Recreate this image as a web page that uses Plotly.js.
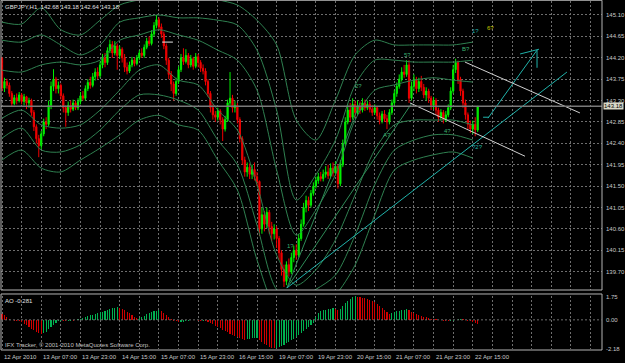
<!DOCTYPE html>
<html><head><meta charset="utf-8">
<script src="https://cdn.plot.ly/plotly-3.0.1.min.js"></script>
<style>html,body{margin:0;padding:0;background:#000;}#c{width:625px;height:363px;}</style>
</head><body><div id="c"></div>
<script>
const symbol = "GBPJPY,H1";
const headerValues = ["142.68","143.18","142.64","143.18"];
const timeLabels = ["12 Apr 2010","13 Apr 07:00","13 Apr 23:00","14 Apr 15:00","15 Apr 07:00","15 Apr 23:00","16 Apr 15:00","19 Apr 07:00","19 Apr 23:00","20 Apr 15:00","21 Apr 07:00","21 Apr 23:00","22 Apr 15:00"];
const timeLabelBars = [0,16,32,48,64,80,96,112,128,144,160,176,192];
const gridBars = [0,8,16,24,32,40,48,56,64,72,80,88,96,104,112,120,128,136,144,152,160,168,176,184,192,200,208,216,224,232,240];
const priceTicks = [145.10,144.65,144.20,143.75,143.30,142.85,142.40,141.95,141.50,141.05,140.60,140.15,139.70,139.25];
const priceTickText = ["145.10","144.65","144.20","143.75","143.30","142.85","142.40","141.95","141.50","141.05","140.60","140.15","139.70","139.25"];
const aoTicks = [1.75,0.00,-2.18];
const aoTickText = ["1.75","0.00","-2.18"];
const bidPrice = 143.18;

const open = [144.19,143.56,143.70,143.62,143.45,143.24,143.36,143.30,143.42,143.28,
143.38,143.25,143.30,143.05,142.75,142.50,142.35,142.60,142.85,142.80,
143.20,143.60,143.75,143.55,143.62,143.40,143.15,143.05,143.20,143.12,
143.25,143.15,143.28,143.40,143.35,143.55,143.68,143.62,143.80,143.90,
143.82,144.05,144.20,144.10,144.35,144.48,144.30,144.45,144.25,144.38,
144.20,144.00,143.92,144.05,144.15,144.08,144.20,144.30,144.25,144.42,
144.55,144.50,144.70,144.88,145.00,144.85,144.70,144.45,144.15,143.85,
143.65,143.45,143.70,143.95,144.20,144.12,144.25,144.05,144.18,144.02,
144.22,144.10,143.98,143.92,143.70,143.45,143.15,143.00,142.95,143.08,
142.90,142.70,142.90,143.25,143.35,143.15,143.20,142.90,142.50,142.05,
141.80,141.90,141.75,141.85,141.70,141.60,140.60,140.90,140.70,140.95,
140.65,140.50,140.60,140.40,140.10,139.75,139.50,139.85,139.70,140.00,
140.15,140.05,140.40,140.70,141.05,141.20,141.10,141.35,141.50,141.62,
141.70,141.66,141.75,141.80,141.72,141.88,141.78,141.92,141.55,141.95,
142.40,142.85,143.10,142.95,143.22,143.05,143.18,143.10,143.25,143.15,
143.22,143.12,143.05,143.15,142.98,142.88,143.02,142.92,142.85,143.05,
143.25,143.45,143.60,143.75,143.90,143.85,144.05,143.35,143.60,143.75,
143.55,143.70,143.58,143.42,143.50,143.35,143.20,143.30,143.10,142.95,
143.05,142.90,143.00,143.15,143.50,143.95,144.10,143.75,143.50,143.25,
143.00,142.80,142.70,142.80,142.68];
const high = [144.22,143.78,143.76,143.68,143.50,143.42,143.45,143.48,143.46,143.44,
143.40,143.36,143.34,143.10,142.80,142.58,142.66,142.92,142.95,143.30,
143.70,143.96,143.80,143.70,143.66,143.45,143.20,143.28,143.30,143.32,
143.30,143.35,143.48,143.50,143.62,143.75,143.80,143.88,143.98,144.00,
144.12,144.28,144.30,144.42,144.58,144.55,144.55,144.50,144.45,144.42,
144.28,144.10,144.12,144.22,144.20,144.26,144.36,144.40,144.48,144.62,
144.65,144.78,144.95,145.10,145.05,144.92,144.75,144.50,144.20,143.92,
143.70,143.78,144.02,144.28,144.40,144.38,144.30,144.26,144.22,144.30,
144.28,144.15,144.06,143.98,143.75,143.50,143.22,143.08,143.15,143.12,
142.95,142.98,143.32,143.90,143.42,143.30,143.25,142.95,142.55,142.12,
142.00,141.98,141.95,142.00,141.80,141.62,141.05,140.98,141.05,141.00,
140.75,140.70,140.66,140.45,140.15,139.85,139.92,139.98,140.10,140.25,
140.28,140.50,140.80,141.15,141.30,141.28,141.42,141.58,141.70,141.78,
141.80,141.85,141.92,141.95,141.98,142.00,142.02,141.96,142.05,142.48,
142.95,143.22,143.25,143.35,143.30,143.30,143.28,143.35,143.32,143.30,
143.28,143.20,143.22,143.18,143.05,143.08,143.10,143.00,143.12,143.32,
143.52,143.68,143.85,144.00,144.05,144.15,144.15,143.70,143.85,143.80,
143.78,143.82,143.65,143.58,143.55,143.40,143.38,143.35,143.15,143.12,
143.10,143.08,143.22,143.58,144.05,144.18,144.14,143.80,143.55,143.32,
143.05,142.88,142.88,142.95,143.18];
const low = [143.50,143.48,143.55,143.38,143.18,143.20,143.22,143.26,143.22,143.20,
143.12,143.15,142.98,142.66,142.40,142.11,142.28,142.55,142.70,142.76,
143.12,143.50,143.45,143.45,143.32,143.05,142.75,142.98,143.05,143.08,
143.10,143.10,143.22,143.30,143.30,143.50,143.55,143.58,143.72,143.75,
143.78,143.98,144.00,144.05,144.30,144.20,144.25,143.95,144.18,144.10,
143.90,143.85,143.88,144.00,144.02,144.04,144.15,144.20,144.20,144.38,
144.45,144.46,144.65,144.82,144.78,144.62,144.38,144.05,143.75,143.50,
143.30,143.40,143.65,143.90,144.05,144.08,143.98,144.00,143.95,143.98,
144.00,143.90,143.85,143.62,143.38,143.05,142.90,142.85,142.88,142.80,
142.45,142.65,142.85,143.18,143.05,143.05,142.82,142.42,141.95,141.70,
141.70,141.65,141.65,141.62,141.50,140.45,140.50,140.55,140.62,140.50,
140.35,140.38,140.20,139.95,139.62,139.38,139.42,139.60,139.65,139.90,
139.95,140.00,140.35,140.65,140.95,140.98,141.05,141.30,141.45,141.55,
141.60,141.60,141.68,141.65,141.66,141.70,141.72,141.45,141.50,141.90,
142.35,142.80,142.85,142.90,142.95,143.00,143.02,143.05,143.08,143.10,
143.05,142.98,143.00,142.90,142.80,142.82,142.85,142.70,142.80,143.00,
143.20,143.38,143.55,143.70,143.78,143.80,143.25,143.30,143.50,143.45,
143.48,143.50,143.35,143.30,143.25,143.10,143.12,143.00,142.85,142.88,
142.82,142.85,142.95,143.10,143.45,143.88,143.65,143.40,143.15,142.90,
142.70,142.62,142.60,142.55,142.64];
const close = [143.56,143.70,143.62,143.45,143.24,143.36,143.30,143.42,143.28,143.38,
143.25,143.30,143.05,142.75,142.50,142.35,142.60,142.85,142.80,143.20,
143.60,143.75,143.55,143.62,143.40,143.15,143.05,143.20,143.12,143.25,
143.15,143.28,143.40,143.35,143.55,143.68,143.62,143.80,143.90,143.82,
144.05,144.20,144.10,144.35,144.48,144.30,144.45,144.25,144.38,144.20,
144.00,143.92,144.05,144.15,144.08,144.20,144.30,144.25,144.42,144.55,
144.50,144.70,144.88,145.00,144.85,144.70,144.45,144.15,143.85,143.65,
143.45,143.70,143.95,144.20,144.12,144.25,144.05,144.18,144.02,144.22,
144.10,143.98,143.92,143.70,143.45,143.15,143.00,142.95,143.08,142.90,
142.70,142.90,143.25,143.35,143.15,143.20,142.90,142.50,142.05,141.80,
141.90,141.75,141.85,141.70,141.60,140.60,140.90,140.70,140.95,140.65,
140.50,140.60,140.40,140.10,139.75,139.50,139.85,139.70,140.00,140.15,
140.05,140.40,140.70,141.05,141.20,141.10,141.35,141.50,141.62,141.70,
141.66,141.75,141.80,141.72,141.88,141.78,141.92,141.55,141.95,142.40,
142.85,143.10,142.95,143.22,143.05,143.18,143.10,143.25,143.15,143.22,
143.12,143.05,143.15,142.98,142.88,143.02,142.92,142.85,143.05,143.25,
143.45,143.60,143.75,143.90,143.85,144.05,143.35,143.60,143.75,143.55,
143.70,143.58,143.42,143.50,143.35,143.20,143.30,143.10,142.95,143.05,
142.90,143.00,143.15,143.50,143.95,144.10,143.75,143.50,143.25,143.00,
142.80,142.70,142.80,142.68,143.18];

const ao = [0.45,0.40,0.25,0.10,0.02,-0.05,-0.10,-0.12,
-0.20,-0.30,-0.42,-0.55,-0.68,-0.80,-0.92,-1.02,-1.10,
-1.00,-0.88,-0.72,-0.55,-0.40,-0.25,-0.12,-0.05,
-0.08,-0.12,-0.10,-0.06,-0.08,-0.02,
0.05,0.10,0.15,0.22,0.28,0.35,0.40,0.45,0.52,0.56,0.62,0.68,0.74,0.80,0.86,0.90,0.95,
0.92,0.85,0.75,0.62,0.48,0.35,0.22,0.12,
0.15,0.22,0.32,0.42,0.52,0.60,0.66,0.70,0.74,
0.65,0.52,0.38,0.22,0.08,-0.05,
-0.12,-0.20,-0.18,-0.14,-0.10,-0.06,-0.03,-0.02,-0.03,
-0.05,-0.06,-0.05,-0.08,-0.15,
-0.25,-0.35,-0.45,-0.55,-0.65,-0.75,-0.85,-0.95,-1.05,-1.15,-1.25,-1.32,-1.40,-1.46,-1.50,
-1.46,-1.42,-1.40,-1.38,-1.36,
-1.50,-1.65,-1.80,-1.92,-2.02,-2.10,-2.15,
-2.12,-2.05,-1.97,-1.88,-1.78,-1.66,-1.54,-1.42,-1.28,-1.14,-1.00,-0.85,-0.70,-0.55,-0.40,-0.22,
0.25,0.50,0.65,0.72,0.78,0.82,0.85,0.88,0.80,0.72,0.85,1.05,1.25,1.42,1.58,1.70,1.78,
1.75,1.70,1.66,1.62,1.58,1.52,1.45,1.35,1.22,1.08,0.92,0.75,0.60,0.45,
0.50,0.58,0.64,0.70,0.74,0.78,0.80,0.72,
0.62,0.52,0.45,0.38,0.32,0.25,0.18,0.12,0.08,0.05,
0.03,0.01,-0.02,-0.05,-0.08,-0.12,-0.10,-0.05,0.02,0.08,0.10,0.06,0.02,-0.05,-0.12,-0.20,-0.25,-0.281];

const bandBars = [0,8,16,24,32,40,48,56,64,72,80,88,96,104,112,120,128,136,144,152,160,168,176,184,192];
const bandU3 = [144.95,144.91,145.25,144.79,144.68,144.99,145.31,145.42,145.52,145.52,145.52,145.42,145.31,144.99,144.47,142.89,142.47,143.31,144.26,144.57,144.47,144.47,144.47,144.47,144.53];
const bandU2 = [144.57,144.53,144.68,144.47,144.26,144.47,144.95,145.04,145.10,145.04,145.04,144.99,144.89,144.36,143.10,141.21,141.74,142.47,143.63,144.15,144.15,144.11,144.11,144.11,144.15];
const bandU1 = [143.94,143.90,144.05,144.11,144.05,144.15,144.57,144.68,144.79,144.68,144.57,144.36,144.15,143.52,141.84,140.47,141.00,141.74,142.89,143.52,143.63,143.73,143.78,143.73,143.69];
const bandL1 = [142.93,143.10,142.79,142.72,142.79,143.10,143.52,143.94,144.05,143.73,143.63,143.10,142.68,141.53,140.05,139.42,139.74,140.37,141.32,142.26,142.79,142.89,142.89,142.89,142.79];
const bandL2 = [142.51,142.72,142.26,142.22,142.37,142.68,143.10,143.42,143.42,143.31,143.10,142.47,141.95,140.68,139.33,139.11,139.33,139.63,140.47,141.53,142.26,142.47,142.58,142.58,142.47];
const bandL3 = [142.05,142.26,141.88,141.80,142.05,142.30,142.58,142.89,142.99,142.79,142.68,142.05,141.42,139.95,138.90,138.69,138.90,139.21,139.84,140.89,141.84,142.05,142.16,142.22,142.09];

// drawn objects (bar position, price)
const cyanTrendBars = [116.2,230.4], cyanTrendPrices = [139.36,143.90];
const cyanArrowBars = [198.2,218.2], cyanArrowPrices = [142.93,144.36];
const cyanHead1Bars = [211.3,219.0], cyanHead1Prices = [144.28,144.38];
const cyanHead2Bars = [218.2,218.2], cyanHead2Prices = [144.36,143.99];
const cyanDashBars = [196.2,198.6], cyanDashPrices = [142.95,142.95];
const fanABars = [116.2,146.0], fanAPrices = [139.36,143.25];
const fanBBars = [116.2,167.2], fanBPrices = [139.36,143.25];
const white1Bars = [166.4,213.3], white1Prices = [143.25,142.13];
const white2Bars = [188.8,235.7], white2Prices = [144.11,143.04];
const whiteDashBars = [65.3,69.7], whiteDashPrices = [144.53,144.53];
const waveText = ["1?","6?","5?","B?","4?","A?","2?","?2?","1?"];
const waveBars = [193.3,199.4,165.2,189.2,181.5,157.0,145.2,194.1,117.5];
const wavePrices = [144.76,144.83,144.26,144.38,142.66,142.58,143.61,142.32,140.24];
const waveKinds = ["c","y","g","g","g","g","g","c","g"];

const FONT = "Liberation Sans, Arial, sans-serif";
const FS = 6;
const TXT = "#c8c8c8";
const GRID = "#6e6e6e";
const GREEN_BAND = "#2f8050";
const idx = open.map((_, i) => i);

const traces = [];
[bandU3,bandU2,bandU1,bandL1,bandL2,bandL3].forEach(b => {
  traces.push({type:'scatter', mode:'lines', x:bandBars, y:b, xaxis:'x', yaxis:'y',
    line:{color:GREEN_BAND, width:1, shape:'spline', smoothing:0.8}, hoverinfo:'skip'});
});
traces.push({type:'candlestick', x:idx, open:open, high:high, low:low, close:close,
  xaxis:'x', yaxis:'y', whiskerwidth:0,
  increasing:{line:{color:'#00f000', width:1}, fillcolor:'#00f000'},
  decreasing:{line:{color:'#f00000', width:1}, fillcolor:'#f00000'},
  hoverinfo:'skip'});
function seg(bx, py, color, w){
  traces.push({type:'scatter', mode:'lines', x:bx, y:py, xaxis:'x', yaxis:'y',
    line:{color:color, width:w||1}, hoverinfo:'skip'});
}
seg(fanABars, fanAPrices, '#2e8b57');
seg(fanBBars, fanBPrices, '#2e8b57');
seg(cyanTrendBars, cyanTrendPrices, '#20b2aa');
seg(cyanArrowBars, cyanArrowPrices, '#20b2aa');
seg(cyanHead1Bars, cyanHead1Prices, '#20b2aa');
seg(cyanHead2Bars, cyanHead2Prices, '#20b2aa');
seg(cyanDashBars, cyanDashPrices, '#20b2aa');
seg(white1Bars, white1Prices, '#d0d0d0');
seg(white2Bars, white2Prices, '#d0d0d0');
seg(whiteDashBars, whiteDashPrices, '#e8e8e8');

const aoColors = ao.map((v, i) => (i === 0 || v < ao[i-1]) ? '#d00000' : '#00b050');
traces.push({type:'bar', x:idx, y:ao, xaxis:'x2', yaxis:'y2', width:0.45,
  marker:{color:aoColors, line:{width:0}}, hoverinfo:'skip'});

const xRange = [-0.41, 244.7];
const mainDom = [0.1719, 1];
const aoDom = [0.0029, 0.1547];
const axCommon = {showgrid:true, gridcolor:GRID, griddash:'2px,2px', gridwidth:1, zeroline:false,
  showline:false, ticks:'', showticklabels:false, fixedrange:true};

const annotations = [];
priceTicks.forEach((p, i) => annotations.push({xref:'paper', yref:'y', x:1.004, y:p, xanchor:'left', yanchor:'middle',
  text:priceTickText[i], showarrow:false, font:{family:FONT, size:FS, color:TXT}}));
aoTicks.forEach((p, i) => annotations.push({xref:'paper', yref:'y2', x:1.004, y:p, xanchor:'left', yanchor:'middle',
  text:aoTickText[i], showarrow:false, font:{family:FONT, size:FS, color:TXT}}));
annotations.push({xref:'paper', yref:'y', x:1.001, y:bidPrice, xanchor:'left', yanchor:'middle',
  text:bidPrice.toFixed(2), showarrow:false, bgcolor:'#d8d8c8', borderpad:0,
  font:{family:FONT, size:FS, color:'#000'}});
timeLabels.forEach((t, i) => annotations.push({xref:'x', yref:'paper', x:timeLabelBars[i], y:-0.019,
  xanchor:'left', yanchor:'middle', text:t, showarrow:false, font:{family:FONT, size:FS, color:TXT}}));
annotations.push({xref:'paper', yref:'paper', x:0.004, y:0.983, xanchor:'left', yanchor:'middle',
  text:symbol + '  ' + headerValues.join(' '), showarrow:false, font:{family:FONT, size:FS, color:'#e0e0e0'}});
annotations.push({xref:'paper', yref:'paper', x:0.004, y:0.14, xanchor:'left', yanchor:'middle',
  text:'AO -0.281', showarrow:false, font:{family:FONT, size:FS, color:'#e0e0e0'}});
annotations.push({xref:'paper', yref:'paper', x:0.004, y:0.013, xanchor:'left', yanchor:'middle',
  text:'IFX Tracker, \u00a9 2001-2010 MetaQuotes Software Corp.', showarrow:false, font:{family:FONT, size:FS, color:'#c0c0c0'}});
const kindColor = {c:'#20b2aa', y:'#c8c800', g:'#3cb371'};
waveText.forEach((t, i) => annotations.push({xref:'x', yref:'y', x:waveBars[i], y:wavePrices[i],
  xanchor:'center', yanchor:'middle', text:t, showarrow:false, font:{family:FONT, size:FS, color:kindColor[waveKinds[i]]}}));

const FR = '#b4b4b4';
const shapes = [
  {type:'line', xref:'paper', yref:'y', x0:0, x1:1, y0:bidPrice, y1:bidPrice, line:{color:'#7a7a7a', width:1.5}},
  {type:'rect', xref:'paper', yref:'paper', x0:0, x1:1, y0:mainDom[0], y1:1.002, line:{color:FR, width:1}},
  {type:'rect', xref:'paper', yref:'paper', x0:0, x1:1, y0:0, y1:0.1605, line:{color:FR, width:1}},
  {type:'line', xref:'x2', yref:'y2', x0:xRange[0], x1:xRange[1], y0:0, y1:0, line:{color:GRID, width:1, dash:'2px,2px'}}
];

const layout = {
  width:625, height:363, paper_bgcolor:'#000', plot_bgcolor:'#000',
  margin:{l:1, r:23, t:1, b:13}, showlegend:false, dragmode:false, bargap:0,
  xaxis:Object.assign({}, axCommon, {domain:[0,1], range:xRange, anchor:'y', tickvals:gridBars, rangeslider:{visible:false}}),
  yaxis:Object.assign({}, axCommon, {domain:mainDom, range:[139.317,145.394], tickvals:priceTicks}),
  xaxis2:Object.assign({}, axCommon, {domain:[0,1], range:xRange, anchor:'y2', tickvals:gridBars}),
  yaxis2:Object.assign({}, axCommon, {domain:aoDom, range:[-2.2,1.8], showgrid:false}),
  annotations:annotations, shapes:shapes
};
Plotly.newPlot('c', traces, layout, {staticPlot:true, displayModeBar:false});
</script>
</body></html>
